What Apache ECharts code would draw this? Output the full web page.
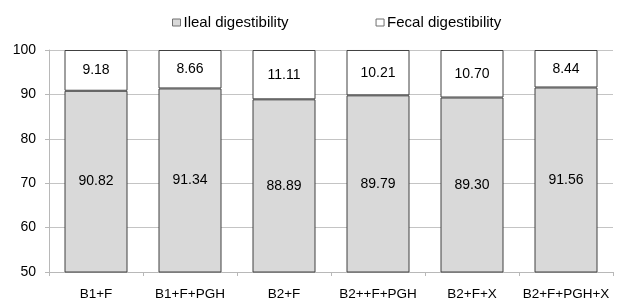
<!DOCTYPE html>
<html>
<head>
<meta charset="utf-8">
<script src="https://cdn.jsdelivr.net/npm/echarts@6/dist/echarts.min.js"></script>
<style>
  html, body { margin: 0; padding: 0; background: #fff; }
  #chart { width: 618px; height: 301px; }
</style>
</head>
<body>
<div id="chart"></div>
<script>
const categories = ['B1+F', 'B1+F+PGH', 'B2+F', 'B2++F+PGH', 'B2+F+X', 'B2+F+PGH+X'];
const ileal = [90.82, 91.34, 88.89, 89.79, 89.30, 91.56];
const fecal = [9.18, 8.66, 11.11, 10.21, 10.70, 8.44];
const seriesNames = ['Ileal digestibility', 'Fecal digestibility'];

const font = 'Liberation Sans, Arial, sans-serif';
const chart = echarts.init(document.getElementById('chart'), null, { renderer: 'canvas' });

const labelStyle = {
  show: true,
  position: 'inside',
  color: '#000',
  fontFamily: font,
  fontSize: 14,
  formatter: (p) => p.value.toFixed(2),
};

chart.setOption({
  animation: false,
  backgroundColor: '#fff',
  legend: {
    top: 10,
    left: 167,
    itemGap: 87,
    itemWidth: 8,
    itemHeight: 7,
    icon: 'rect',
    itemStyle: { borderWidth: 1, borderColor: '#707070' },
    textStyle: { fontFamily: font, fontSize: 15, color: '#000', padding: [0, 0, 0, -2] },
    data: seriesNames,
  },
  grid: { left: 49, right: 5, top: 50, bottom: 28 },
  xAxis: {
    type: 'category',
    data: categories,
    axisLine: { lineStyle: { color: '#b8b8b8' } },
    axisTick: { show: true, length: 4, lineStyle: { color: '#b8b8b8' } },
    axisLabel: { color: '#000', fontFamily: font, fontSize: 13.5, margin: 15, interval: 0 },
  },
  yAxis: {
    type: 'value',
    min: 50,
    max: 100,
    interval: 10,
    axisLine: { show: true, lineStyle: { color: '#b8b8b8' } },
    axisTick: { show: true, length: 4, lineStyle: { color: '#b8b8b8' } },
    axisLabel: { color: '#000', fontFamily: font, fontSize: 14, margin: 13 },
    splitLine: { lineStyle: { color: '#c4c4c4' } },
  },
  series: [
    {
      name: seriesNames[0],
      type: 'bar',
      stack: 'total',
      barWidth: 63,
      data: ileal,
      itemStyle: { color: '#d9d9d9', borderColor: '#404040', borderWidth: 1 },
      label: labelStyle,
    },
    {
      name: seriesNames[1],
      type: 'bar',
      stack: 'total',
      barWidth: 63,
      data: fecal,
      itemStyle: { color: '#ffffff', borderColor: '#404040', borderWidth: 1 },
      label: labelStyle,
    },
  ],
});
</script>
</body>
</html>
